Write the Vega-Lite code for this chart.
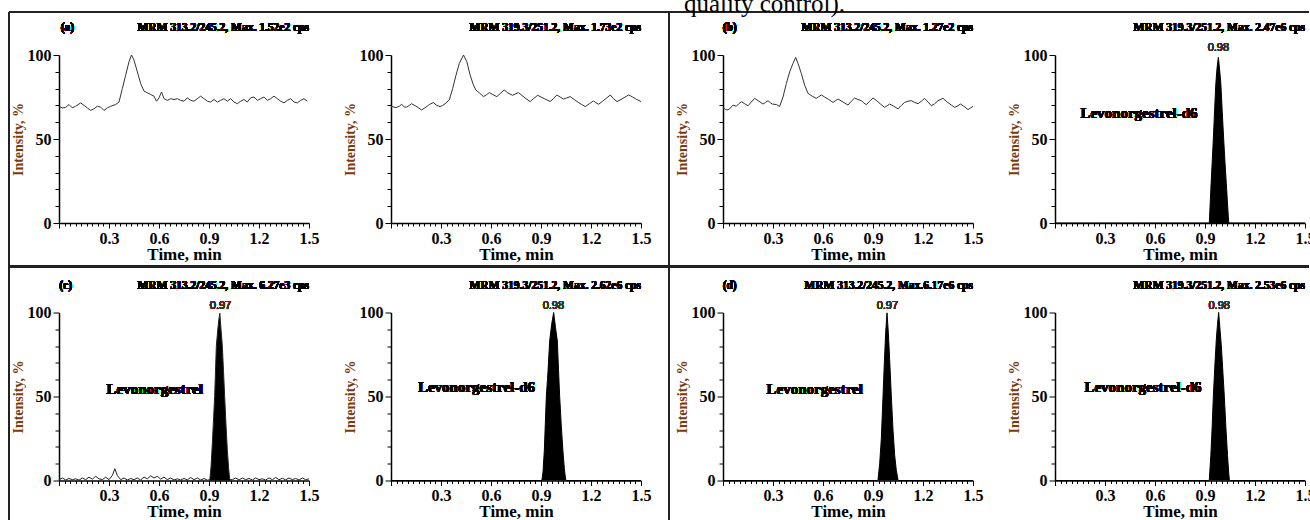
{
"$schema": "https://vega.github.io/schema/vega-lite/v6.json",
"padding": {"left": 8, "top": -9, "right": 0, "bottom": 0},
"title": {"text": "quality control).", "font": "Liberation Serif", "fontSize": 25, "fontWeight": "normal", "color": "#000", "anchor": "start", "dx": 676, "offset": -5.6},
"config": {
  "view": {"stroke": null},
  "axis": {"grid": false, "domainColor": "#000", "domainWidth": 1.5, "tickColor": "#000", "tickWidth": 1, "labelFont": "Liberation Serif", "labelFontWeight": "bold", "labelFontSize": 16, "labelColor": "#000", "titleFont": "Liberation Serif", "titleFontWeight": "bold", "labelOverlap": false, "labelFlush": false},
  "axisX": {"titleFontSize": 17, "titleColor": "#000", "titlePadding": 0, "labelPadding": 2},
  "axisY": {"titleFontSize": 14, "titleColor": "#7a3b0c", "titlePadding": 2, "labelPadding": 2}
},
"datasets": {
"a1": [{"t":0,"i":69.5},{"t":0.02,"i":68.5},{"t":0.04,"i":68.8},{"t":0.06,"i":70.5},{"t":0.08,"i":68.5},{"t":0.1,"i":69.5},{"t":0.13,"i":71.5},{"t":0.15,"i":70},{"t":0.17,"i":68.5},{"t":0.19,"i":67},{"t":0.21,"i":68},{"t":0.23,"i":69.5},{"t":0.25,"i":69},{"t":0.27,"i":67},{"t":0.29,"i":68.5},{"t":0.31,"i":69.5},{"t":0.34,"i":70.5},{"t":0.36,"i":72},{"t":0.38,"i":80},{"t":0.4,"i":88},{"t":0.42,"i":96},{"t":0.435,"i":100},{"t":0.45,"i":97},{"t":0.47,"i":90},{"t":0.49,"i":83},{"t":0.51,"i":78.5},{"t":0.53,"i":77.5},{"t":0.55,"i":76.5},{"t":0.57,"i":75.5},{"t":0.585,"i":72.5},{"t":0.6,"i":74.5},{"t":0.615,"i":78},{"t":0.63,"i":74},{"t":0.65,"i":73},{"t":0.67,"i":74},{"t":0.69,"i":73.5},{"t":0.71,"i":74},{"t":0.73,"i":73},{"t":0.75,"i":72.5},{"t":0.77,"i":74.5},{"t":0.79,"i":73},{"t":0.81,"i":72.5},{"t":0.83,"i":74},{"t":0.85,"i":75.5},{"t":0.87,"i":74},{"t":0.89,"i":72.5},{"t":0.91,"i":72},{"t":0.93,"i":73.5},{"t":0.95,"i":72},{"t":0.97,"i":73},{"t":0.99,"i":74},{"t":1.01,"i":72.5},{"t":1.03,"i":74},{"t":1.05,"i":72},{"t":1.07,"i":71},{"t":1.09,"i":72.5},{"t":1.11,"i":73.5},{"t":1.13,"i":72},{"t":1.15,"i":74.5},{"t":1.17,"i":75},{"t":1.19,"i":73},{"t":1.21,"i":74},{"t":1.23,"i":75},{"t":1.25,"i":73},{"t":1.27,"i":74},{"t":1.29,"i":75.5},{"t":1.31,"i":74},{"t":1.33,"i":72.5},{"t":1.35,"i":71.5},{"t":1.37,"i":73},{"t":1.39,"i":74},{"t":1.41,"i":72},{"t":1.43,"i":71.5},{"t":1.45,"i":73},{"t":1.47,"i":74},{"t":1.49,"i":72.5}],
"a2": [{"t":0,"i":69.5},{"t":0.03,"i":68.7},{"t":0.05,"i":69.5},{"t":0.064,"i":70.7},{"t":0.08,"i":69},{"t":0.094,"i":69},{"t":0.11,"i":70},{"t":0.124,"i":71},{"t":0.15,"i":69.5},{"t":0.184,"i":67.3},{"t":0.21,"i":69},{"t":0.23,"i":70.5},{"t":0.254,"i":71.7},{"t":0.275,"i":70},{"t":0.294,"i":69.3},{"t":0.31,"i":70},{"t":0.324,"i":70.9},{"t":0.35,"i":73.3},{"t":0.37,"i":80},{"t":0.39,"i":88},{"t":0.41,"i":95},{"t":0.435,"i":100},{"t":0.455,"i":96},{"t":0.475,"i":88},{"t":0.495,"i":82},{"t":0.509,"i":79.2},{"t":0.53,"i":77.5},{"t":0.555,"i":75.2},{"t":0.575,"i":76.5},{"t":0.59,"i":77.6},{"t":0.61,"i":76.5},{"t":0.635,"i":75.2},{"t":0.655,"i":77},{"t":0.679,"i":79.2},{"t":0.7,"i":77.5},{"t":0.73,"i":76},{"t":0.75,"i":77},{"t":0.765,"i":77.6},{"t":0.785,"i":76},{"t":0.81,"i":74},{"t":0.835,"i":72.3},{"t":0.855,"i":74},{"t":0.88,"i":76},{"t":0.9,"i":75},{"t":0.93,"i":73.5},{"t":0.955,"i":72.3},{"t":0.975,"i":74},{"t":0.995,"i":76.2},{"t":1.015,"i":75},{"t":1.035,"i":73.7},{"t":1.055,"i":74.5},{"t":1.075,"i":75.2},{"t":1.1,"i":73.5},{"t":1.125,"i":71.7},{"t":1.145,"i":70.5},{"t":1.166,"i":69.3},{"t":1.19,"i":71},{"t":1.216,"i":72.7},{"t":1.23,"i":71.5},{"t":1.246,"i":70.7},{"t":1.27,"i":72.5},{"t":1.295,"i":74.5},{"t":1.316,"i":76.2},{"t":1.335,"i":74},{"t":1.356,"i":72.3},{"t":1.38,"i":73.5},{"t":1.405,"i":75},{"t":1.426,"i":76.2},{"t":1.45,"i":75},{"t":1.475,"i":73.5},{"t":1.5,"i":72.3}],
"b1": [{"t":0,"i":68.8},{"t":0.015,"i":67.5},{"t":0.03,"i":67.3},{"t":0.045,"i":68.5},{"t":0.06,"i":70.2},{"t":0.08,"i":69.5},{"t":0.095,"i":71},{"t":0.11,"i":72.2},{"t":0.13,"i":71},{"t":0.15,"i":69.8},{"t":0.17,"i":72},{"t":0.19,"i":74.2},{"t":0.215,"i":72.5},{"t":0.24,"i":70.8},{"t":0.255,"i":71.8},{"t":0.27,"i":72.8},{"t":0.285,"i":71.5},{"t":0.296,"i":70.8},{"t":0.32,"i":70.5},{"t":0.34,"i":69.4},{"t":0.36,"i":75},{"t":0.38,"i":83},{"t":0.4,"i":90},{"t":0.42,"i":95},{"t":0.436,"i":98.6},{"t":0.45,"i":95},{"t":0.47,"i":89},{"t":0.49,"i":82},{"t":0.51,"i":77.2},{"t":0.535,"i":75.5},{"t":0.56,"i":74.2},{"t":0.575,"i":75.2},{"t":0.59,"i":76.2},{"t":0.61,"i":75},{"t":0.635,"i":73.5},{"t":0.66,"i":71.8},{"t":0.675,"i":72.8},{"t":0.69,"i":73.8},{"t":0.72,"i":72},{"t":0.75,"i":70.2},{"t":0.77,"i":72.5},{"t":0.79,"i":74.4},{"t":0.81,"i":73.5},{"t":0.83,"i":72.8},{"t":0.845,"i":71.5},{"t":0.86,"i":70.4},{"t":0.88,"i":72.5},{"t":0.9,"i":74.4},{"t":0.92,"i":73},{"t":0.945,"i":70.8},{"t":0.97,"i":68.8},{"t":0.985,"i":69.8},{"t":1,"i":70.8},{"t":1.025,"i":69.5},{"t":1.05,"i":67.9},{"t":1.07,"i":70},{"t":1.09,"i":71.8},{"t":1.11,"i":72.5},{"t":1.13,"i":72.8},{"t":1.15,"i":71.8},{"t":1.17,"i":71},{"t":1.19,"i":72.5},{"t":1.21,"i":74.2},{"t":1.23,"i":72},{"t":1.25,"i":69.8},{"t":1.27,"i":71},{"t":1.29,"i":72.8},{"t":1.32,"i":74.2},{"t":1.345,"i":72},{"t":1.37,"i":70.2},{"t":1.39,"i":68.8},{"t":1.41,"i":69.8},{"t":1.424,"i":70.8},{"t":1.445,"i":69.5},{"t":1.47,"i":67.5},{"t":1.485,"i":68.5},{"t":1.5,"i":69.4}],
"b2": [{"t":0,"i":0},{"t":0.92,"i":0},{"t":0.926,"i":0.3},{"t":0.935,"i":20},{"t":0.943,"i":36},{"t":0.95,"i":50},{"t":0.958,"i":68},{"t":0.965,"i":83},{"t":0.972,"i":92},{"t":0.98,"i":98.6},{"t":0.988,"i":91},{"t":0.995,"i":83},{"t":1.003,"i":67},{"t":1.012,"i":50},{"t":1.02,"i":36},{"t":1.03,"i":20},{"t":1.036,"i":10},{"t":1.042,"i":0.3},{"t":1.05,"i":0},{"t":1.5,"i":0}],
"c1": [{"t":0,"i":0.5},{"t":0.02,"i":1.5},{"t":0.04,"i":0.3},{"t":0.06,"i":1.2},{"t":0.08,"i":0.5},{"t":0.1,"i":1},{"t":0.12,"i":0.2},{"t":0.14,"i":1.5},{"t":0.16,"i":0.5},{"t":0.18,"i":2},{"t":0.2,"i":0.8},{"t":0.22,"i":2.5},{"t":0.24,"i":1},{"t":0.26,"i":0.5},{"t":0.28,"i":2},{"t":0.3,"i":0.5},{"t":0.32,"i":3},{"t":0.335,"i":7},{"t":0.35,"i":3},{"t":0.37,"i":0.5},{"t":0.39,"i":1.5},{"t":0.41,"i":0.3},{"t":0.43,"i":1.2},{"t":0.45,"i":0.5},{"t":0.47,"i":1.5},{"t":0.49,"i":0.3},{"t":0.51,"i":2},{"t":0.53,"i":1},{"t":0.55,"i":2.8},{"t":0.57,"i":1.5},{"t":0.59,"i":2.5},{"t":0.61,"i":0.8},{"t":0.63,"i":2},{"t":0.65,"i":0.5},{"t":0.67,"i":1.5},{"t":0.69,"i":0.3},{"t":0.71,"i":1},{"t":0.73,"i":0.3},{"t":0.75,"i":1.2},{"t":0.77,"i":0.4},{"t":0.79,"i":1.8},{"t":0.81,"i":0.5},{"t":0.83,"i":1.5},{"t":0.85,"i":0.3},{"t":0.87,"i":1.2},{"t":0.89,"i":0.2},{"t":0.905,"i":0.5},{"t":0.912,"i":8},{"t":0.92,"i":22},{"t":0.928,"i":38},{"t":0.934,"i":50},{"t":0.944,"i":80},{"t":0.952,"i":89},{"t":0.958,"i":95},{"t":0.965,"i":99.6},{"t":0.972,"i":90},{"t":0.98,"i":80},{"t":0.987,"i":65},{"t":0.994,"i":50},{"t":1.002,"i":33},{"t":1.01,"i":18},{"t":1.018,"i":7},{"t":1.024,"i":1},{"t":1.03,"i":0.5},{"t":1.04,"i":0.5},{"t":1.06,"i":1.5},{"t":1.08,"i":0.3},{"t":1.1,"i":1.5},{"t":1.12,"i":0.5},{"t":1.14,"i":1.2},{"t":1.16,"i":0.3},{"t":1.18,"i":1.5},{"t":1.2,"i":0.5},{"t":1.22,"i":1},{"t":1.24,"i":0.3},{"t":1.26,"i":1.5},{"t":1.28,"i":0.5},{"t":1.3,"i":1.8},{"t":1.32,"i":0.5},{"t":1.34,"i":1.3},{"t":1.36,"i":0.4},{"t":1.38,"i":1.5},{"t":1.4,"i":0.5},{"t":1.42,"i":1.2},{"t":1.44,"i":0.3},{"t":1.46,"i":1.5},{"t":1.48,"i":0.5},{"t":1.5,"i":1}],
"c2": [{"t":0,"i":0},{"t":0.905,"i":0},{"t":0.912,"i":5},{"t":0.92,"i":18},{"t":0.926,"i":34},{"t":0.932,"i":50},{"t":0.942,"i":65},{"t":0.952,"i":83},{"t":0.964,"i":93},{"t":0.976,"i":100},{"t":0.987,"i":91},{"t":0.998,"i":83},{"t":1.005,"i":66},{"t":1.012,"i":50},{"t":1.022,"i":32},{"t":1.032,"i":17},{"t":1.04,"i":7},{"t":1.048,"i":0.5},{"t":1.055,"i":0},{"t":1.5,"i":0}],
"d1": [{"t":0,"i":0},{"t":0.925,"i":0},{"t":0.93,"i":0.5},{"t":0.94,"i":10},{"t":0.95,"i":25},{"t":0.96,"i":50},{"t":0.968,"i":70},{"t":0.976,"i":88},{"t":0.984,"i":99.8},{"t":0.992,"i":88},{"t":1,"i":72},{"t":1.01,"i":50},{"t":1.02,"i":30},{"t":1.03,"i":15},{"t":1.04,"i":6},{"t":1.05,"i":0.5},{"t":1.055,"i":0},{"t":1.5,"i":0}],
"d2": [{"t":0,"i":0},{"t":0.92,"i":0},{"t":0.926,"i":0.5},{"t":0.935,"i":15},{"t":0.943,"i":32},{"t":0.95,"i":50},{"t":0.96,"i":70},{"t":0.968,"i":84},{"t":0.975,"i":93},{"t":0.982,"i":100},{"t":0.99,"i":90},{"t":0.998,"i":80},{"t":1.007,"i":65},{"t":1.016,"i":50},{"t":1.025,"i":32},{"t":1.035,"i":15},{"t":1.042,"i":5},{"t":1.046,"i":0.5},{"t":1.052,"i":0},{"t":1.5,"i":0}]
},
"columns": 4,
"spacing": {"row": 89.5, "column": 82},
"bounds": "flush",
"concat": [
  {"width": 250, "height": 168, "data": {"name": "a1"},
   "encoding": {
    "x": {"field": "t", "type": "quantitative", "title": "Time, min", "scale": {"domain": [0, 1.5], "nice": false}, "axis": {"values": [0,0.0333,0.0667,0.1,0.1333,0.1667,0.2,0.2333,0.2667,0.3,0.3333,0.3667,0.4,0.4333,0.4667,0.5,0.5333,0.5667,0.6,0.6333,0.6667,0.7,0.7333,0.7667,0.8,0.8333,0.8667,0.9,0.9333,0.9667,1,1.0333,1.0667,1.1,1.1333,1.1667,1.2,1.2333,1.2667,1.3,1.3333,1.3667,1.4,1.4333,1.4667,1.5], "labelExpr": "datum.value > 0.01 && abs(datum.value*10/3 - round(datum.value*10/3)) < 0.02 ? format(datum.value, '.1f') : ''", "tickSize": {"condition": {"test": "abs(datum.value*10/3 - round(datum.value*10/3)) < 0.02", "value": 5}, "value": 3}}},
    "y": {"field": "i", "type": "quantitative", "title": "Intensity, %", "scale": {"domain": [0, 100], "nice": false}, "axis": {"values": [0,10,20,30,40,50,60,70,80,90,100], "labelExpr": "datum.value % 50 === 0 ? datum.label : ''", "tickSize": {"condition": {"test": "datum.value % 50 === 0", "value": 6}, "value": 4}}}
   },
   "layer": [
    {"mark": {"type": "rule", "color": "#222", "strokeWidth": 2, "clip": false}, "encoding": {"x": {"datum": -0.3}, "x2": {"datum": 7.5}, "y": {"datum": 125.6}}},
    {"mark": {"type": "rule", "color": "#222", "strokeWidth": 2, "clip": false}, "encoding": {"x": {"datum": -0.3}, "y": {"datum": 125.6}, "y2": {"datum": -177}}},
    {"mark": {"type": "rule", "color": "#222", "strokeWidth": 2, "clip": false}, "encoding": {"x": {"datum": -0.3}, "x2": {"datum": 7.5}, "y": {"datum": -26}}},
    {"mark": {"type": "rule", "color": "#222", "strokeWidth": 2, "clip": false}, "encoding": {"x": {"datum": 3.66}, "y": {"datum": 125.6}, "y2": {"datum": -177}}},
    {"mark": {"type": "line", "color": "#333", "strokeWidth": 1}},
    {"mark": {"type": "text", "text": "(a)", "font": "Liberation Serif", "fontWeight": "bold", "fontSize": 11.5, "align": "center", "baseline": "alphabetic", "color": "#000"}, "encoding": {"x": {"datum": 0.05}, "y": {"datum": 114}}},
    {"mark": {"type": "text", "text": "MRM 313.2/245.2, Max. 1.52e2 cps", "font": "Liberation Serif", "fontWeight": "bold", "fontSize": 11.5, "align": "right", "baseline": "alphabetic", "color": "#000"}, "encoding": {"x": {"datum": 1.5}, "y": {"datum": 114}}}
   ]},
  {"width": 250, "height": 168, "data": {"name": "a2"},
   "encoding": {
    "x": {"field": "t", "type": "quantitative", "title": "Time, min", "scale": {"domain": [0, 1.5], "nice": false}, "axis": {"values": [0,0.0333,0.0667,0.1,0.1333,0.1667,0.2,0.2333,0.2667,0.3,0.3333,0.3667,0.4,0.4333,0.4667,0.5,0.5333,0.5667,0.6,0.6333,0.6667,0.7,0.7333,0.7667,0.8,0.8333,0.8667,0.9,0.9333,0.9667,1,1.0333,1.0667,1.1,1.1333,1.1667,1.2,1.2333,1.2667,1.3,1.3333,1.3667,1.4,1.4333,1.4667,1.5], "labelExpr": "datum.value > 0.01 && abs(datum.value*10/3 - round(datum.value*10/3)) < 0.02 ? format(datum.value, '.1f') : ''", "tickSize": {"condition": {"test": "abs(datum.value*10/3 - round(datum.value*10/3)) < 0.02", "value": 5}, "value": 3}}},
    "y": {"field": "i", "type": "quantitative", "title": "Intensity, %", "scale": {"domain": [0, 100], "nice": false}, "axis": {"values": [0,10,20,30,40,50,60,70,80,90,100], "labelExpr": "datum.value % 50 === 0 ? datum.label : ''", "tickSize": {"condition": {"test": "datum.value % 50 === 0", "value": 6}, "value": 4}}}
   },
   "layer": [
    {"mark": {"type": "line", "color": "#333", "strokeWidth": 1}},
    {"mark": {"type": "text", "text": "MRM 319.3/251.2, Max. 1.73e2 cps", "font": "Liberation Serif", "fontWeight": "bold", "fontSize": 11.5, "align": "right", "baseline": "alphabetic", "color": "#000"}, "encoding": {"x": {"datum": 1.5}, "y": {"datum": 114}}}
   ]},
  {"width": 250, "height": 168, "data": {"name": "b1"},
   "encoding": {
    "x": {"field": "t", "type": "quantitative", "title": "Time, min", "scale": {"domain": [0, 1.5], "nice": false}, "axis": {"values": [0,0.0333,0.0667,0.1,0.1333,0.1667,0.2,0.2333,0.2667,0.3,0.3333,0.3667,0.4,0.4333,0.4667,0.5,0.5333,0.5667,0.6,0.6333,0.6667,0.7,0.7333,0.7667,0.8,0.8333,0.8667,0.9,0.9333,0.9667,1,1.0333,1.0667,1.1,1.1333,1.1667,1.2,1.2333,1.2667,1.3,1.3333,1.3667,1.4,1.4333,1.4667,1.5], "labelExpr": "datum.value > 0.01 && abs(datum.value*10/3 - round(datum.value*10/3)) < 0.02 ? format(datum.value, '.1f') : ''", "tickSize": {"condition": {"test": "abs(datum.value*10/3 - round(datum.value*10/3)) < 0.02", "value": 5}, "value": 3}}},
    "y": {"field": "i", "type": "quantitative", "title": "Intensity, %", "scale": {"domain": [0, 100], "nice": false}, "axis": {"values": [0,10,20,30,40,50,60,70,80,90,100], "labelExpr": "datum.value % 50 === 0 ? datum.label : ''", "tickSize": {"condition": {"test": "datum.value % 50 === 0", "value": 6}, "value": 4}}}
   },
   "layer": [
    {"mark": {"type": "line", "color": "#333", "strokeWidth": 1}},
    {"mark": {"type": "text", "text": "(b)", "font": "Liberation Serif", "fontWeight": "bold", "fontSize": 11.5, "align": "center", "baseline": "alphabetic", "color": "#000"}, "encoding": {"x": {"datum": 0.04}, "y": {"datum": 114}}},
    {"mark": {"type": "text", "text": "MRM 313.2/245.2, Max. 1.27e2 cps", "font": "Liberation Serif", "fontWeight": "bold", "fontSize": 11.5, "align": "right", "baseline": "alphabetic", "color": "#000"}, "encoding": {"x": {"datum": 1.5}, "y": {"datum": 114}}}
   ]},
  {"width": 250, "height": 168, "data": {"name": "b2"},
   "encoding": {
    "x": {"field": "t", "type": "quantitative", "title": "Time, min", "scale": {"domain": [0, 1.5], "nice": false}, "axis": {"values": [0,0.0333,0.0667,0.1,0.1333,0.1667,0.2,0.2333,0.2667,0.3,0.3333,0.3667,0.4,0.4333,0.4667,0.5,0.5333,0.5667,0.6,0.6333,0.6667,0.7,0.7333,0.7667,0.8,0.8333,0.8667,0.9,0.9333,0.9667,1,1.0333,1.0667,1.1,1.1333,1.1667,1.2,1.2333,1.2667,1.3,1.3333,1.3667,1.4,1.4333,1.4667,1.5], "labelExpr": "datum.value > 0.01 && abs(datum.value*10/3 - round(datum.value*10/3)) < 0.02 ? format(datum.value, '.1f') : ''", "tickSize": {"condition": {"test": "abs(datum.value*10/3 - round(datum.value*10/3)) < 0.02", "value": 5}, "value": 3}}},
    "y": {"field": "i", "type": "quantitative", "title": "Intensity, %", "scale": {"domain": [0, 100], "nice": false}, "axis": {"values": [0,10,20,30,40,50,60,70,80,90,100], "labelExpr": "datum.value % 50 === 0 ? datum.label : ''", "tickSize": {"condition": {"test": "datum.value % 50 === 0", "value": 6}, "value": 4}}}
   },
   "layer": [
    {"mark": {"type": "area", "color": "#000"}},
    {"mark": {"type": "line", "color": "#000", "strokeWidth": 1}},
    {"mark": {"type": "text", "text": "MRM 319.3/251.2, Max. 2.47e6 cps", "font": "Liberation Serif", "fontWeight": "bold", "fontSize": 11.5, "align": "right", "baseline": "alphabetic", "color": "#000"}, "encoding": {"x": {"datum": 1.5}, "y": {"datum": 114}}},
    {"mark": {"type": "text", "text": "0.98", "font": "Liberation Sans", "fontSize": 11, "align": "center", "baseline": "bottom", "dy": -2, "color": "#333"}, "encoding": {"x": {"datum": 0.98}, "y": {"datum": 100}}},
    {"mark": {"type": "text", "text": "Levonorgestrel-d6", "font": "Liberation Serif", "fontWeight": "bold", "fontSize": 15, "align": "center", "baseline": "middle", "color": "#000"}, "encoding": {"x": {"datum": 0.504}, "y": {"datum": 65.6}}}
   ]},
  {"width": 250, "height": 168, "data": {"name": "c1"},
   "encoding": {
    "x": {"field": "t", "type": "quantitative", "title": "Time, min", "scale": {"domain": [0, 1.5], "nice": false}, "axis": {"values": [0,0.0333,0.0667,0.1,0.1333,0.1667,0.2,0.2333,0.2667,0.3,0.3333,0.3667,0.4,0.4333,0.4667,0.5,0.5333,0.5667,0.6,0.6333,0.6667,0.7,0.7333,0.7667,0.8,0.8333,0.8667,0.9,0.9333,0.9667,1,1.0333,1.0667,1.1,1.1333,1.1667,1.2,1.2333,1.2667,1.3,1.3333,1.3667,1.4,1.4333,1.4667,1.5], "labelExpr": "datum.value > 0.01 && abs(datum.value*10/3 - round(datum.value*10/3)) < 0.02 ? format(datum.value, '.1f') : ''", "tickSize": {"condition": {"test": "abs(datum.value*10/3 - round(datum.value*10/3)) < 0.02", "value": 5}, "value": 3}}},
    "y": {"field": "i", "type": "quantitative", "title": "Intensity, %", "scale": {"domain": [0, 100], "nice": false}, "axis": {"values": [0,10,20,30,40,50,60,70,80,90,100], "labelExpr": "datum.value % 50 === 0 ? datum.label : ''", "tickSize": {"condition": {"test": "datum.value % 50 === 0", "value": 6}, "value": 4}}}
   },
   "layer": [
    {"transform": [{"filter": "datum.t >= 0.9 && datum.t <= 1.035"}], "mark": {"type": "area", "color": "#000"}},
    {"mark": {"type": "line", "color": "#222", "strokeWidth": 1}},
    {"mark": {"type": "text", "text": "(c)", "font": "Liberation Serif", "fontWeight": "bold", "fontSize": 11.5, "align": "center", "baseline": "alphabetic", "color": "#000"}, "encoding": {"x": {"datum": 0.04}, "y": {"datum": 114}}},
    {"mark": {"type": "text", "text": "MRM 313.2/245.2, Max. 6.27e3 cps", "font": "Liberation Serif", "fontWeight": "bold", "fontSize": 11.5, "align": "right", "baseline": "alphabetic", "color": "#000"}, "encoding": {"x": {"datum": 1.5}, "y": {"datum": 114}}},
    {"mark": {"type": "text", "text": "0.97", "font": "Liberation Sans", "fontSize": 11, "align": "center", "baseline": "bottom", "dy": -2, "color": "#333"}, "encoding": {"x": {"datum": 0.969}, "y": {"datum": 100}}},
    {"mark": {"type": "text", "text": "Levonorgestrel", "font": "Liberation Serif", "fontWeight": "bold", "fontSize": 15, "align": "center", "baseline": "middle", "color": "#000"}, "encoding": {"x": {"datum": 0.574}, "y": {"datum": 54.7}}}
   ]},
  {"width": 250, "height": 168, "data": {"name": "c2"},
   "encoding": {
    "x": {"field": "t", "type": "quantitative", "title": "Time, min", "scale": {"domain": [0, 1.5], "nice": false}, "axis": {"values": [0,0.0333,0.0667,0.1,0.1333,0.1667,0.2,0.2333,0.2667,0.3,0.3333,0.3667,0.4,0.4333,0.4667,0.5,0.5333,0.5667,0.6,0.6333,0.6667,0.7,0.7333,0.7667,0.8,0.8333,0.8667,0.9,0.9333,0.9667,1,1.0333,1.0667,1.1,1.1333,1.1667,1.2,1.2333,1.2667,1.3,1.3333,1.3667,1.4,1.4333,1.4667,1.5], "labelExpr": "datum.value > 0.01 && abs(datum.value*10/3 - round(datum.value*10/3)) < 0.02 ? format(datum.value, '.1f') : ''", "tickSize": {"condition": {"test": "abs(datum.value*10/3 - round(datum.value*10/3)) < 0.02", "value": 5}, "value": 3}}},
    "y": {"field": "i", "type": "quantitative", "title": "Intensity, %", "scale": {"domain": [0, 100], "nice": false}, "axis": {"values": [0,10,20,30,40,50,60,70,80,90,100], "labelExpr": "datum.value % 50 === 0 ? datum.label : ''", "tickSize": {"condition": {"test": "datum.value % 50 === 0", "value": 6}, "value": 4}}}
   },
   "layer": [
    {"mark": {"type": "area", "color": "#000"}},
    {"mark": {"type": "line", "color": "#000", "strokeWidth": 1}},
    {"mark": {"type": "text", "text": "MRM 319.3/251.2, Max. 2.62e6 cps", "font": "Liberation Serif", "fontWeight": "bold", "fontSize": 11.5, "align": "right", "baseline": "alphabetic", "color": "#000"}, "encoding": {"x": {"datum": 1.5}, "y": {"datum": 114}}},
    {"mark": {"type": "text", "text": "0.98", "font": "Liberation Sans", "fontSize": 11, "align": "center", "baseline": "bottom", "dy": -2, "color": "#333"}, "encoding": {"x": {"datum": 0.974}, "y": {"datum": 100}}},
    {"mark": {"type": "text", "text": "Levonorgestrel-d6", "font": "Liberation Serif", "fontWeight": "bold", "fontSize": 15, "align": "center", "baseline": "middle", "color": "#000"}, "encoding": {"x": {"datum": 0.513}, "y": {"datum": 55.9}}}
   ]},
  {"width": 250, "height": 168, "data": {"name": "d1"},
   "encoding": {
    "x": {"field": "t", "type": "quantitative", "title": "Time, min", "scale": {"domain": [0, 1.5], "nice": false}, "axis": {"values": [0,0.0333,0.0667,0.1,0.1333,0.1667,0.2,0.2333,0.2667,0.3,0.3333,0.3667,0.4,0.4333,0.4667,0.5,0.5333,0.5667,0.6,0.6333,0.6667,0.7,0.7333,0.7667,0.8,0.8333,0.8667,0.9,0.9333,0.9667,1,1.0333,1.0667,1.1,1.1333,1.1667,1.2,1.2333,1.2667,1.3,1.3333,1.3667,1.4,1.4333,1.4667,1.5], "labelExpr": "datum.value > 0.01 && abs(datum.value*10/3 - round(datum.value*10/3)) < 0.02 ? format(datum.value, '.1f') : ''", "tickSize": {"condition": {"test": "abs(datum.value*10/3 - round(datum.value*10/3)) < 0.02", "value": 5}, "value": 3}}},
    "y": {"field": "i", "type": "quantitative", "title": "Intensity, %", "scale": {"domain": [0, 100], "nice": false}, "axis": {"values": [0,10,20,30,40,50,60,70,80,90,100], "labelExpr": "datum.value % 50 === 0 ? datum.label : ''", "tickSize": {"condition": {"test": "datum.value % 50 === 0", "value": 6}, "value": 4}}}
   },
   "layer": [
    {"mark": {"type": "area", "color": "#000"}},
    {"mark": {"type": "line", "color": "#000", "strokeWidth": 1}},
    {"mark": {"type": "text", "text": "(d)", "font": "Liberation Serif", "fontWeight": "bold", "fontSize": 11.5, "align": "center", "baseline": "alphabetic", "color": "#000"}, "encoding": {"x": {"datum": 0.04}, "y": {"datum": 114}}},
    {"mark": {"type": "text", "text": "MRM 313.2/245.2, Max.6.17e6 cps", "font": "Liberation Serif", "fontWeight": "bold", "fontSize": 11.5, "align": "right", "baseline": "alphabetic", "color": "#000"}, "encoding": {"x": {"datum": 1.5}, "y": {"datum": 114}}},
    {"mark": {"type": "text", "text": "0.97", "font": "Liberation Sans", "fontSize": 11, "align": "center", "baseline": "bottom", "dy": -2, "color": "#333"}, "encoding": {"x": {"datum": 0.986}, "y": {"datum": 100}}},
    {"mark": {"type": "text", "text": "Levonorgestrel", "font": "Liberation Serif", "fontWeight": "bold", "fontSize": 15, "align": "center", "baseline": "middle", "color": "#000"}, "encoding": {"x": {"datum": 0.55}, "y": {"datum": 54.2}}}
   ]},
  {"width": 250, "height": 168, "data": {"name": "d2"},
   "encoding": {
    "x": {"field": "t", "type": "quantitative", "title": "Time, min", "scale": {"domain": [0, 1.5], "nice": false}, "axis": {"values": [0,0.0333,0.0667,0.1,0.1333,0.1667,0.2,0.2333,0.2667,0.3,0.3333,0.3667,0.4,0.4333,0.4667,0.5,0.5333,0.5667,0.6,0.6333,0.6667,0.7,0.7333,0.7667,0.8,0.8333,0.8667,0.9,0.9333,0.9667,1,1.0333,1.0667,1.1,1.1333,1.1667,1.2,1.2333,1.2667,1.3,1.3333,1.3667,1.4,1.4333,1.4667,1.5], "labelExpr": "datum.value > 0.01 && abs(datum.value*10/3 - round(datum.value*10/3)) < 0.02 ? format(datum.value, '.1f') : ''", "tickSize": {"condition": {"test": "abs(datum.value*10/3 - round(datum.value*10/3)) < 0.02", "value": 5}, "value": 3}}},
    "y": {"field": "i", "type": "quantitative", "title": "Intensity, %", "scale": {"domain": [0, 100], "nice": false}, "axis": {"values": [0,10,20,30,40,50,60,70,80,90,100], "labelExpr": "datum.value % 50 === 0 ? datum.label : ''", "tickSize": {"condition": {"test": "datum.value % 50 === 0", "value": 6}, "value": 4}}}
   },
   "layer": [
    {"mark": {"type": "area", "color": "#000"}},
    {"mark": {"type": "line", "color": "#000", "strokeWidth": 1}},
    {"mark": {"type": "text", "text": "MRM 319.3/251.2, Max. 2.53e6 cps", "font": "Liberation Serif", "fontWeight": "bold", "fontSize": 11.5, "align": "right", "baseline": "alphabetic", "color": "#000"}, "encoding": {"x": {"datum": 1.5}, "y": {"datum": 114}}},
    {"mark": {"type": "text", "text": "0.98", "font": "Liberation Sans", "fontSize": 11, "align": "center", "baseline": "bottom", "dy": -2, "color": "#333"}, "encoding": {"x": {"datum": 0.985}, "y": {"datum": 100}}},
    {"mark": {"type": "text", "text": "Levonorgestrel-d6", "font": "Liberation Serif", "fontWeight": "bold", "fontSize": 15, "align": "center", "baseline": "middle", "color": "#000"}, "encoding": {"x": {"datum": 0.528}, "y": {"datum": 55.8}}}
   ]}
]
}
